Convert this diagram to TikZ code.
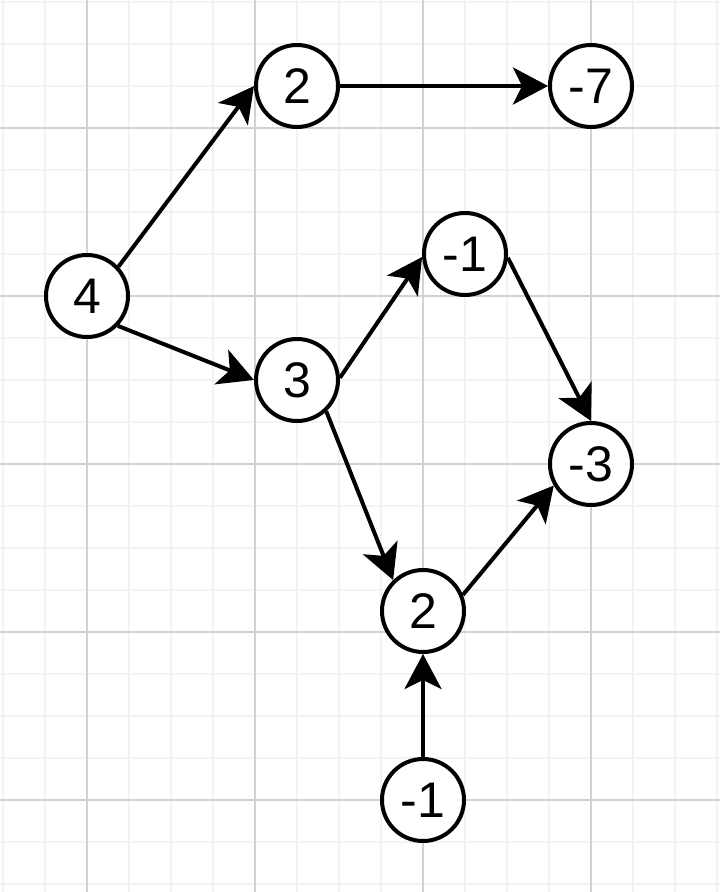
\documentclass[tikz,border=0pt]{standalone}
\usepackage{fontspec}
\setmainfont{Liberation Sans}
\usetikzlibrary{arrows.meta}
\definecolor{minorgrid}{HTML}{F2F2F2}
\definecolor{majorgrid}{HTML}{D2D2D2}
\begin{document}
\begin{tikzpicture}[x=1pt,y=-1pt,
  vnode/.style={circle, draw=black, line width=4pt, fill=white, minimum size=82pt, inner sep=0pt, font=\fontsize{50}{60}\selectfont},
  edge/.style={line width=4pt, -{Stealth[length=35pt,width=37pt,inset=9pt]}}]
\useasboundingbox (0,0) rectangle (720,892);
\fill[white] (0,0) rectangle (720,892);
\foreach \k in {0,...,17} \draw[minorgrid, line width=1.5pt] ({3+42*\k},0) -- ({3+42*\k},892);
\foreach \k in {0,...,21} \draw[minorgrid, line width=1.5pt] (0,{2+42*\k}) -- (720,{2+42*\k});
\foreach \x in {87,255,423,591} \draw[majorgrid, line width=1.5pt] (\x,0) -- (\x,892);
\foreach \y in {128,296,464,632,800} \draw[majorgrid, line width=1.5pt] (0,\y) -- (720,\y);

\node[vnode] (n4) at (87,296) {4};
\node[vnode] (n2a) at (297,86) {2};
\node[vnode] (n7) at (591,86) {-7};
\node[vnode] (n1a) at (465,254) {-1};
\node[vnode] (n3) at (297,380) {3};
\node[vnode] (n3m) at (591,464) {-3};
\node[vnode] (n2b) at (423,611) {2};
\node[vnode] (n1b) at (423,800) {-1};

\draw[edge] (n4.43) -- (n2a.180);
\draw[edge] (n4.-44) -- (n3.180);
\draw[edge] (n2a.0) -- (n7.180);
\draw[edge] (n3.3) -- (n1a.184);
\draw[edge] (n1a.-5) -- (n3m.90);
\draw[edge] (n3.-47) -- (n2b.134);
\draw[edge] (n2b.22) -- (n3m.210);
\draw[edge] (n1b.90) -- (n2b.-90);
\end{tikzpicture}
\end{document}
